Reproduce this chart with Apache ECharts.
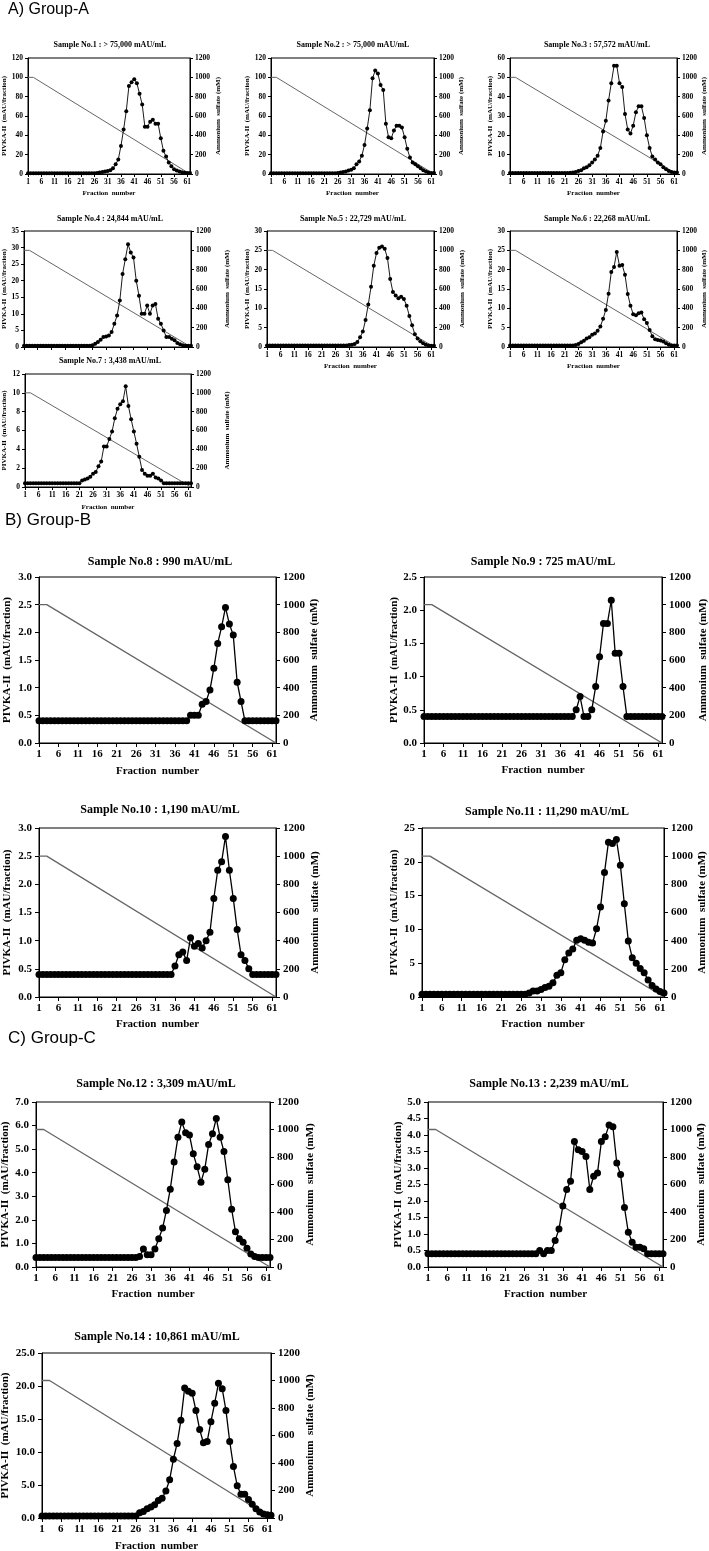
<!DOCTYPE html>
<html><head><meta charset="utf-8">
<script src="https://cdn.jsdelivr.net/npm/echarts@6/dist/echarts.min.js"></script>
<style>html,body{margin:0;padding:0;background:#fff}#c{width:709px;height:1551px}</style>
</head><body><div id="c"></div>
<script>
// ---------- DATA ----------
const fractions = [1,2,3,4,5,6,7,8,9,10,11,12,13,14,15,16,17,18,19,20,21,22,23,24,25,26,27,28,29,30,
  31,32,33,34,35,36,37,38,39,40,41,42,43,44,45,46,47,48,49,50,51,52,53,54,55,56,57,58,59,60,61,62];
const sulfateGradient = [['1',1000],['3',1000],['62',0]];
const groupLabels = ['A) Group-A','B) Group-B','C) Group-C'];
const titles = [
  'Sample No.1 : > 75,000 mAU/mL','Sample No.2 : > 75,000 mAU/mL','Sample No.3 : 57,572 mAU/mL',
  'Sample No.4 : 24,844 mAU/mL','Sample No.5 : 22,729 mAU/mL','Sample No.6 : 22,268 mAU/mL',
  'Sample No.7 : 3,438 mAU/mL','Sample No.8 : 990 mAU/mL','Sample No.9 : 725 mAU/mL',
  'Sample No.10 : 1,190 mAU/mL','Sample No.11 : 11,290 mAU/mL','Sample No.12 : 3,309 mAU/mL',
  'Sample No.13 : 2,239 mAU/mL','Sample No.14 : 10,861 mAU/mL'];
const xName = 'Fraction  number';
const leftName = 'PIVKA-II  (mAU/fraction)';
const rightName = 'Ammonium  sulfate (mM)';
const leftMax = [120,120,60,35,30,30,12,3,2.5,3,25,7,5,25];
const leftInterval = [20,20,10,5,5,5,2,0.5,0.5,0.5,5,1,0.5,5];
const leftDecimals = [0,0,0,0,0,0,0,1,1,1,0,1,1,1];
const rightMax = 1200, rightInterval = 200;

const s1 = [0.8,0.8,0.8,0.8,0.8,0.8,0.8,0.8,0.8,0.8, 0.8,0.8,0.8,0.8,0.8,0.8,0.8,0.8,0.8,0.8,
  0.8,0.8,0.8,0.8,0.8,0.8,1,1.5,2,2.5, 3,4,6,10,15,29,46,65,91,95,
  98,94,83,72,49,49,54,56,52,52, 37,24,18,12,8,5,3.5,2.5,1.8,1.2, 1,1];
const s2 = [0.8,0.8,0.8,0.8,0.8,0.8,0.8,0.8,0.8,0.8, 0.8,0.8,0.8,0.8,0.8,0.8,0.8,0.8,0.8,0.8,
  0.8,0.8,0.8,0.8,0.8,1,1.5,2,2.5,3.5, 4.5,6,10,13,19,30,47,66,99,107,
  104,92,87,52,38,37,45,50,50,48, 38,26,17,12,10,8,6,4,2.5,1.5, 1,1];
const s3 = [0.5,0.5,0.5,0.5,0.5,0.5,0.5,0.5,0.5,0.5, 0.5,0.5,0.5,0.5,0.5,0.5,0.5,0.5,0.5,0.5,
  0.5,0.5,0.6,0.8,1,1.5,2,3,3.5,4.5, 6,7.5,9.5,13.5,22,27.5,38,47,56,56,
  47,45,31,23,21,25,32,35,35,29, 20,13.5,9,7.5,6,5,3.5,2.5,1.5,1, 0.8,0.8];
const s4 = [0.4,0.4,0.4,0.4,0.4,0.4,0.4,0.4,0.4,0.4, 0.4,0.4,0.4,0.4,0.4,0.4,0.4,0.4,0.4,0.4,
  0.4,0.4,0.4,0.4,0.4,0.5,1,1.5,2.2,3, 3.2,3.5,4.5,7,9.5,14,22,26.5,31,28.5,
  27,20,15.5,10,10,12.5,10,12.5,13,8.5, 7,5,3,3,2.5,2,1.2,0.8,0.5,0.4, 0.4,0.4];
const s5 = [0.4,0.4,0.4,0.4,0.4,0.4,0.4,0.4,0.4,0.4, 0.4,0.4,0.4,0.4,0.4,0.4,0.4,0.4,0.4,0.4,
  0.4,0.4,0.4,0.4,0.4,0.4,0.4,0.4,0.4,0.4, 0.5,0.6,0.8,1.3,2.5,4,7,11,15.6,21,
  24.3,25.7,26,25.4,23,17.6,14.2,13.3,12.6,13, 12.4,10.7,8,5.6,3.3,2.2,1.5,1,0.6,0.4, 0.3,0.3];
const s6 = [0.4,0.4,0.4,0.4,0.4,0.4,0.4,0.4,0.4,0.4, 0.4,0.4,0.4,0.4,0.4,0.4,0.4,0.4,0.4,0.4,
  0.4,0.4,0.4,0.4,0.5,0.8,1.2,1.6,2.2,2.5, 3.2,3.5,4.2,5.3,7.3,9.6,13.8,19.4,20.7,24.6,
  21,21.2,18.7,13.7,10.7,8.5,8.2,8.7,8.9,7.2, 6.2,4.4,2.8,2,1.8,1.7,1.4,1,0.6,0.4, 0.4,0.4];
const s7 = [0.4,0.4,0.4,0.4,0.4,0.4,0.4,0.4,0.4,0.4, 0.4,0.4,0.4,0.4,0.4,0.4,0.4,0.4,0.4,0.4,
  0.4,0.7,0.8,0.9,1.1,1.4,1.6,2.2,2.7,4.3, 4.3,5.1,5.9,7.3,8.3,8.8,9.1,10.7,8.6,7.2,
  5.9,4.6,3.2,1.8,1.4,1.2,1.2,1.4,1,0.9, 0.7,0.4,0.4,0.4,0.4,0.4,0.4,0.4,0.4,0.4, 0.4,0.4];
const s8 = [0.4,0.4,0.4,0.4,0.4,0.4,0.4,0.4,0.4,0.4, 0.4,0.4,0.4,0.4,0.4,0.4,0.4,0.4,0.4,0.4,
  0.4,0.4,0.4,0.4,0.4,0.4,0.4,0.4,0.4,0.4, 0.4,0.4,0.4,0.4,0.4,0.4,0.4,0.4,0.4,0.5,
  0.5,0.5,0.7,0.75,0.96,1.35,1.8,2.1,2.45,2.15, 1.95,1.1,0.75,0.4,0.4,0.4,0.4,0.4,0.4,0.4, 0.4,0.4];
const s9 = [0.4,0.4,0.4,0.4,0.4,0.4,0.4,0.4,0.4,0.4, 0.4,0.4,0.4,0.4,0.4,0.4,0.4,0.4,0.4,0.4,
  0.4,0.4,0.4,0.4,0.4,0.4,0.4,0.4,0.4,0.4, 0.4,0.4,0.4,0.4,0.4,0.4,0.4,0.4,0.4,0.5,
  0.7,0.4,0.4,0.5,0.85,1.3,1.8,1.8,2.15,1.35, 1.35,0.85,0.4,0.4,0.4,0.4,0.4,0.4,0.4,0.4, 0.4,0.4];
const s10 = [0.4,0.4,0.4,0.4,0.4,0.4,0.4,0.4,0.4,0.4, 0.4,0.4,0.4,0.4,0.4,0.4,0.4,0.4,0.4,0.4,
  0.4,0.4,0.4,0.4,0.4,0.4,0.4,0.4,0.4,0.4, 0.4,0.4,0.4,0.4,0.4,0.55,0.75,0.8,0.65,1.05,
  0.9,0.95,0.87,1.0,1.15,1.75,2.25,2.4,2.85,2.25, 1.75,1.2,0.75,0.65,0.5,0.4,0.4,0.4,0.4,0.4, 0.4,0.4];
const s11 = [0.4,0.4,0.4,0.4,0.4,0.4,0.4,0.4,0.4,0.4, 0.4,0.4,0.4,0.4,0.4,0.4,0.4,0.4,0.4,0.4,
  0.4,0.4,0.4,0.4,0.4,0.4,0.4,0.6,0.9,0.9, 1.1,1.4,1.6,2.1,3.2,3.6,5.5,6.5,7.1,8.4,
  8.6,8.4,8.1,8.0,10.1,13.3,18.4,22.9,22.7,23.3, 19.5,13.8,8.3,5.8,5.0,4.2,3.6,2.5,1.7,1.2, 0.8,0.6];
const s12 = [0.4,0.4,0.4,0.4,0.4,0.4,0.4,0.4,0.4,0.4, 0.4,0.4,0.4,0.4,0.4,0.4,0.4,0.4,0.4,0.4,
  0.4,0.4,0.4,0.4,0.4,0.4,0.4,0.45,0.76,0.52, 0.52,0.76,1.2,1.65,2.4,3.3,4.45,5.5,6.15,5.7,
  5.6,4.8,4.25,3.6,4.15,5.2,5.65,6.3,5.5,4.9, 3.7,2.45,1.5,1.2,1.05,0.8,0.55,0.45,0.4,0.4, 0.4,0.4];
const s13 = [0.4,0.4,0.4,0.4,0.4,0.4,0.4,0.4,0.4,0.4, 0.4,0.4,0.4,0.4,0.4,0.4,0.4,0.4,0.4,0.4,
  0.4,0.4,0.4,0.4,0.4,0.4,0.4,0.4,0.4,0.5, 0.4,0.5,0.5,0.8,1.15,1.85,2.35,2.6,3.8,3.55,
  3.5,3.35,2.35,2.75,2.85,3.8,3.95,4.3,4.25,3.15, 2.8,1.8,1.05,0.75,0.6,0.6,0.55,0.4,0.4,0.4, 0.4,0.4];
const s14 = [0.3,0.3,0.3,0.3,0.3,0.3,0.3,0.3,0.3,0.3, 0.3,0.3,0.3,0.3,0.3,0.3,0.3,0.3,0.3,0.3,
  0.3,0.3,0.3,0.3,0.3,0.3,0.8,1.0,1.4,1.65, 2.0,2.65,3.0,4.1,5.8,8.9,11.3,14.8,19.7,19.2,
  18.9,16.3,13.4,11.4,11.6,14.6,17.4,20.4,19.6,16.3, 11.6,7.8,4.9,3.6,3.6,2.8,2.1,1.4,0.9,0.6, 0.5,0.4];
const pivka = [s1,s2,s3,s4,s5,s6,s7,s8,s9,s10,s11,s12,s13,s14];

// ---------- LAYOUT (positions / sizes only) ----------
const layout = [
  {l:28, t:58, r:190, b:174, tx:110, ty:45, g:'A', lg:19.5, rg:24.5, xg:15.5},
  {l:271,t:58, r:434, b:174, tx:353, ty:45, g:'A', lg:19.5, rg:23.5, xg:15.5},
  {l:510,t:58, r:677, b:174, tx:597, ty:45, g:'A', lg:15.5, rg:21.5, xg:15.5},
  {l:24, t:231,r:191, b:347, tx:110, ty:219,g:'A', lg:16.5, rg:32.5, xg:15.5, hideX:true},
  {l:267,t:231,r:434, b:347, tx:353, ty:219,g:'A', lg:15.5, rg:24.5, xg:15.5},
  {l:510,t:231,r:677, b:347, tx:597, ty:219,g:'A', lg:15.5, rg:22.5, xg:15.5},
  {l:25, t:374,r:191, b:487, tx:110, ty:361,g:'A', lg:17.5, rg:32.5, xg:16.5},
  {l:39, t:577,r:276, b:743, tx:160, ty:562,g:'B', lg:26.5, rg:31.5, xg:22.5},
  {l:424,t:577,r:662, b:743, tx:543, ty:562,g:'B', lg:23.5, rg:35.5, xg:21.5},
  {l:39, t:828,r:276, b:997, tx:160, ty:810,g:'B', lg:26.5, rg:33.5, xg:21.5},
  {l:422,t:828,r:664, b:997, tx:547, ty:812,g:'B', lg:20.5, rg:32.5, xg:21.5},
  {l:36, t:1102,r:270,b:1267,tx:156, ty:1084,g:'C', lg:25.5, rg:34.5, xg:21.5},
  {l:428,t:1102,r:663,b:1267,tx:549, ty:1084,g:'C', lg:24.5, rg:31.5, xg:21.5},
  {l:42, t:1353,r:271,b:1518,tx:157, ty:1337,g:'C', lg:31.5, rg:33.5, xg:22.5}
];
const groupPos = [{x:8,y:10,fs:16},{x:5,y:520,fs:17},{x:8,y:1038,fs:17}];

const SERIF = '"Liberation Serif","Times New Roman",serif';
const SANS = '"Liberation Sans",Arial,sans-serif';

const grid=[], xAxis=[], yAxis=[], series=[], graphic=[];
const catNames = fractions.map(String);

layout.forEach((p,i)=>{
  const big = p.g !== 'A';
  const tfs = big ? 11 : 7.5;   // tick label size
  const nfs = big ? 11 : 7;     // axis name size
  const titleFs = big ? 12 : 8;
  const tick = big ? 4 : 3;
  const nameStyle = {fontFamily:SERIF, fontWeight:'bold', fontSize:nfs, color:'#000'};
  const labStyle = {fontFamily:SERIF, fontWeight:'bold', fontSize:tfs, color:'#000'};
  grid.push({left:p.l, top:p.t, width:p.r-p.l, height:p.b-p.t, show:true,
    borderColor:'#000', borderWidth:1, backgroundColor:'rgba(0,0,0,0)',
    containLabel:false, outerBoundsMode:'none'});
  xAxis.push({type:'category', gridIndex:i, data:catNames, boundaryGap:false,
    axisLine:{show:true, lineStyle:{color:'#000', width:1}},
    axisTick:{show:true, interval:4, length:tick, inside:false, lineStyle:{color:'#000'}},
    axisLabel:Object.assign({show:!p.hideX, interval:4, margin:big?6:4}, labStyle),
    splitLine:{show:false},
    name:p.hideX?'':xName, nameLocation:'middle', nameGap:p.xg, nameTextStyle:nameStyle});
  const dec = leftDecimals[i];
  yAxis.push({type:'value', gridIndex:i, position:'left', min:0, max:leftMax[i], interval:leftInterval[i],
    axisLine:{show:true, lineStyle:{color:'#000', width:1}},
    axisTick:{show:true, length:tick, inside:false, lineStyle:{color:'#000'}},
    axisLabel:Object.assign({margin:big?7:5, formatter:v=>Number(v).toFixed(dec)}, labStyle),
    splitLine:{show:false},
    name:leftName, nameLocation:'middle', nameRotate:90, nameGap:p.lg, nameTextStyle:nameStyle});
  yAxis.push({type:'value', gridIndex:i, position:'right', min:0, max:rightMax, interval:rightInterval,
    axisLine:{show:true, lineStyle:{color:'#000', width:1}},
    axisTick:{show:true, length:tick, inside:false, lineStyle:{color:'#000'}},
    axisLabel:Object.assign({margin:big?7:5, formatter:v=>String(Math.round(v))}, labStyle),
    splitLine:{show:false},
    name:rightName, nameLocation:'middle', nameRotate:90, nameGap:p.rg, nameTextStyle:nameStyle});
  series.push({type:'line', xAxisIndex:i, yAxisIndex:2*i+1, data:sulfateGradient, symbol:'none',
    lineStyle:{color:'#666', width:big?1.3:1}, z:1, silent:true});
  series.push({type:'line', xAxisIndex:i, yAxisIndex:2*i, data:pivka[i], symbol:'circle',
    symbolSize:big?7:4, showSymbol:true, showAllSymbol:true, lineStyle:{color:'#000', width:big?1.3:0.9},
    itemStyle:{color:'#000', borderWidth:0}, z:3, silent:true});
  graphic.push({type:'text', x:p.tx, y:p.ty, style:{text:titles[i],
    font:'bold '+titleFs+'px '+SERIF, fill:'#000', align:'center', verticalAlign:'middle'}});
});
groupPos.forEach((g,k)=>{
  graphic.push({type:'text', x:g.x, y:g.y, style:{text:groupLabels[k],
    font:g.fs+'px '+SANS, fill:'#000', align:'left', verticalAlign:'middle'}});
});

const chart = echarts.init(document.getElementById('c'), null, {renderer:'canvas'});
chart.setOption({animation:false, backgroundColor:'#fff', grid, xAxis, yAxis, series, graphic});
</script></body></html>
